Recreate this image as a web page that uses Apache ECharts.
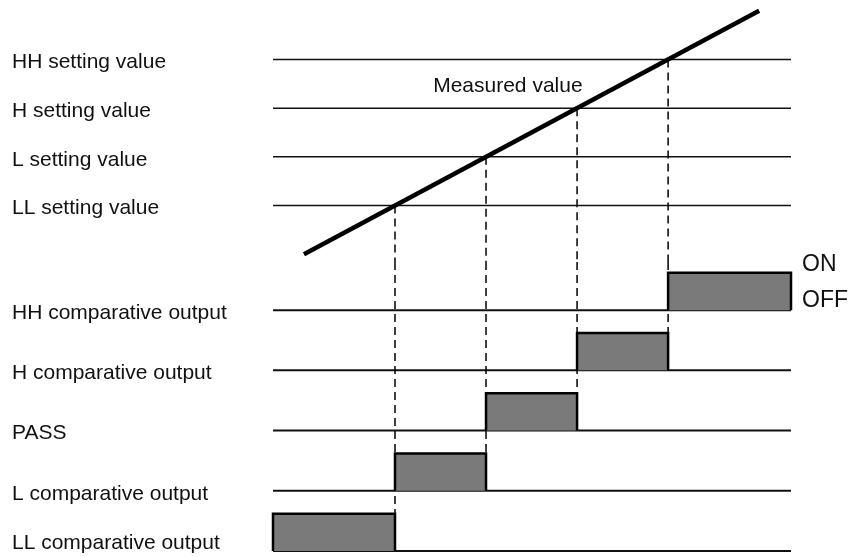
<!DOCTYPE html>
<html><head><meta charset="utf-8">
<script src="https://cdn.jsdelivr.net/npm/echarts@6/dist/echarts.min.js"></script>
<style>html,body{margin:0;padding:0;background:#fff}#c{width:856px;height:557px}</style>
</head><body><div id="c"></div>
<script>
// ---- data ----
const timeRange = [-0.34, 5.35];
const measuredTime = [0, 5];
const measuredLevel = [0, 5];
const settingNames = ['LL setting value', 'L setting value', 'H setting value', 'HH setting value'];
const settingLevels = [1, 2, 3, 4];
const crossTimes = [1, 2, 3, 4];
const outputNames = ['LL comparative output', 'L comparative output', 'PASS', 'H comparative output', 'HH comparative output'];
const outputRows = [0, 1, 2, 3, 4];
const onStart = [-0.34, 1, 2, 3, 4];
const onEnd = [1, 2, 3, 4, 5.35];
const onLevel = 0.62;
const stateNames = ['OFF', 'ON'];

// ---- chart ----
const FONT = 'Liberation Sans, Arial, Helvetica, sans-serif';
const topY = [-0.16, 5.2];
const botY = [-0.1, 4.8];
const chart = echarts.init(document.getElementById('c'), null, {renderer: 'canvas'});

function hLine(api, y, style) {
  const a = api.coord([timeRange[0], y]);
  const b = api.coord([timeRange[1], y]);
  return {type: 'line', shape: {x1: a[0], y1: a[1], x2: b[0], y2: b[1]}, style: style};
}
const txt = {fontFamily: FONT, fontSize: 21, color: '#111'};

const option = {
  animation: false,
  backgroundColor: '#fff',
  grid: [
    {left: 273, width: 518, top: 1, height: 261},
    {left: 273, width: 518, top: 262, height: 295}
  ],
  xAxis: [
    {type: 'value', gridIndex: 0, min: timeRange[0], max: timeRange[1], show: false},
    {type: 'value', gridIndex: 1, min: timeRange[0], max: timeRange[1], show: false}
  ],
  yAxis: [
    {type: 'value', gridIndex: 0, min: topY[0], max: topY[1], position: 'left',
      axisLine: {show: false}, axisTick: {show: false}, splitLine: {show: false},
      axisLabel: {show: true, customValues: settingLevels, align: 'left', margin: 261,
        formatter: v => '{a|' + (settingNames[settingLevels.indexOf(Math.round(v))] || '') + '}',
        rich: {a: Object.assign({padding: [6, 0, 0, 0]}, txt)}}},
    {type: 'value', gridIndex: 1, min: botY[0], max: botY[1], position: 'left',
      axisLine: {show: false}, axisTick: {show: false}, splitLine: {show: false},
      axisLabel: {show: true, customValues: outputRows, align: 'left', margin: 261,
        formatter: v => {
          const i = outputRows.indexOf(Math.round(v));
          return (i === 0 ? '{up|' : '{a|') + (outputNames[i] || '') + '}';
        },
        rich: {a: Object.assign({padding: [6, 0, 0, 0]}, txt),
               up: Object.assign({padding: [0, 0, 16, 0]}, txt)}}},
    {type: 'value', gridIndex: 1, min: botY[0], max: botY[1], position: 'right',
      axisLine: {show: false}, axisTick: {show: false}, splitLine: {show: false},
      axisLabel: {show: true, customValues: [outputRows[4], outputRows[4] + onLevel], align: 'left', margin: 11,
        formatter: v => (v > outputRows[4] + 0.1 ? '{on|' + stateNames[1] + '}' : '{off|' + stateNames[0] + '}'),
        rich: {on: {fontFamily: FONT, fontSize: 23, color: '#111', padding: [0, 0, 16, 0]},
               off: {fontFamily: FONT, fontSize: 23, color: '#111', padding: [0, 0, 20, 0]}}}}
  ],
  series: [
    // setting value lines
    {type: 'custom', xAxisIndex: 0, yAxisIndex: 0, silent: true, z: 1,
      data: settingLevels.map(v => [timeRange[0], v]), encode: {x: 0, y: 1},
      renderItem: (p, api) => hLine(api, api.value(1), {stroke: '#111', lineWidth: 1.5})},
    // dashed drop lines (top part)
    {type: 'custom', xAxisIndex: 0, yAxisIndex: 0, silent: true, z: 2,
      data: crossTimes.map((t, i) => [t, settingLevels[i]]), encode: {x: 0, y: 1},
      renderItem: (p, api) => {
        const a = api.coord([api.value(0), api.value(1)]);
        const b = api.coord([api.value(0), topY[0]]);
        return {type: 'line', shape: {x1: a[0], y1: a[1], x2: b[0], y2: b[1]},
          style: {stroke: '#000', lineWidth: 1.5, lineDash: [8, 5]}};
      }},
    // measured value line
    {type: 'line', xAxisIndex: 0, yAxisIndex: 0, z: 5, symbol: 'none', silent: true,
      data: measuredTime.map((t, i) => [t, measuredLevel[i]]),
      lineStyle: {color: '#000', width: 4.5, cap: 'butt'}},
    // "Measured value" label
    {type: 'scatter', xAxisIndex: 0, yAxisIndex: 0, symbolSize: 0, silent: true,
      itemStyle: {opacity: 1},
      data: [[2.24, 3.46]],
      label: {show: true, position: 'inside', formatter: 'Measured value',
        fontFamily: FONT, fontSize: 21, color: '#111'}},
    // output baselines
    {type: 'custom', xAxisIndex: 1, yAxisIndex: 1, silent: true, z: 1,
      data: outputRows.map(r => [timeRange[0], r]), encode: {x: 0, y: 1},
      renderItem: (p, api) => hLine(api, api.value(1), {stroke: '#111', lineWidth: 2})},
    // dashed drop lines (bottom part)
    {type: 'custom', xAxisIndex: 1, yAxisIndex: 1, silent: true, z: 2,
      data: crossTimes.map((t, i) => [t, outputRows[i] + onLevel]), encode: {x: 0, y: 1},
      renderItem: (p, api) => {
        const a = api.coord([api.value(0), botY[1]]);
        const b = api.coord([api.value(0), api.value(1)]);
        return {type: 'line', shape: {x1: a[0], y1: a[1], x2: b[0], y2: b[1]},
          style: {stroke: '#000', lineWidth: 1.5, lineDash: [8, 5]}};
      }},
    // ON pulses
    {type: 'custom', xAxisIndex: 1, yAxisIndex: 1, silent: true, z: 3,
      data: outputRows.map((r, i) => [onStart[i], r, onEnd[i]]), encode: {x: [0, 2], y: 1},
      renderItem: (p, api) => {
        const r = api.value(1);
        const a = api.coord([api.value(0), r + onLevel]);
        const b = api.coord([api.value(2), r]);
        return {type: 'group', children: [
          {type: 'rect', shape: {x: a[0], y: a[1], width: b[0] - a[0], height: b[1] - a[1]},
            style: {fill: '#7a7a7a'}},
          {type: 'polyline', shape: {points: [[a[0], b[1]], [a[0], a[1]], [b[0], a[1]], [b[0], b[1]]]},
            style: {stroke: '#000', lineWidth: 2.5, fill: null}}
        ]};
      }}
  ]
};
chart.setOption(option);
</script>
</body></html>
